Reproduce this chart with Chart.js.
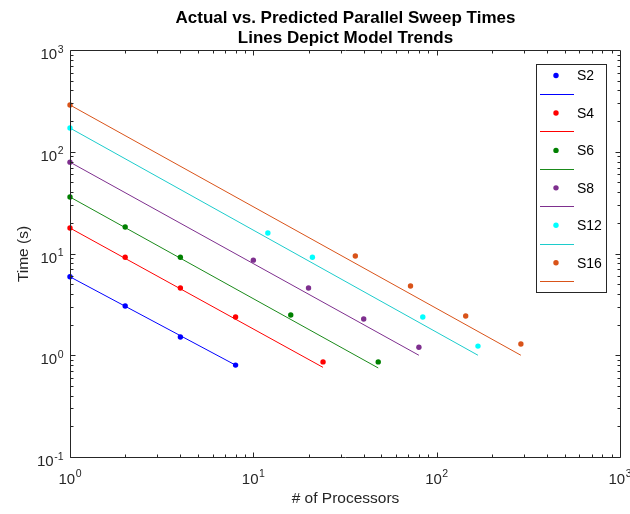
<!DOCTYPE html>
<html>
<head>
<meta charset="utf-8">
<script src="https://cdn.jsdelivr.net/npm/chart.js@4"></script>
<style>
  body { margin: 0; background: #fff; }
  canvas { display: block; }
</style>
</head>
<body>
<canvas id="sweepChart" width="630" height="514"></canvas>
<script>
// --- data ---
const seriesLabels = ["S2", "S4", "S6", "S8", "S12", "S16"];

const procsS2 = [1, 2, 4, 8];
const timeS2 = [5.9, 3.05, 1.51, 0.8];
const procsS4 = [1, 2, 4, 8, 24];
const timeS4 = [17.8, 9.2, 4.58, 2.38, 0.86];
const procsS6 = [1, 2, 4, 16, 48];
const timeS6 = [35.9, 18.2, 9.2, 2.49, 0.86];
const procsS8 = [1, 10, 20, 40, 80];
const timeS8 = [79, 8.6, 4.58, 2.27, 1.2];
const procsS12 = [1, 12, 21, 84, 168];
const timeS12 = [171, 15.9, 9.2, 2.38, 1.23];
const procsS16 = [1, 36, 72, 144, 288];
const timeS16 = [288, 9.44, 4.8, 2.43, 1.29];

// model trend lines (start / end)
const modelProcs = [[1, 8], [1, 24], [1, 48], [1, 80], [1, 168], [1, 288]];
const modelTimes = [[5.9, 0.8], [17.8, 0.76], [35.9, 0.75], [79, 1.0], [171, 1.0], [288, 1.0]];

const xTickValues = [1, 10, 100, 1000];
const xTickExps = ["0", "1", "2", "3"];
const yTickValues = [0.1, 1, 10, 100, 1000];
const yTickExps = ["-1", "0", "1", "2", "3"];

const titleLines = ["Actual vs. Predicted Parallel Sweep Times", "Lines Depict Model Trends"];
const xTitle = "# of Processors";
const yTitle = "Time (s)";

// --- styles ---
const pointColors = ["#0000ff", "#ff0000", "#008000", "#7e2f8e", "#00ffff", "#d95319"];
const lineColors = ["#0000ff", "#ff0000", "#1a8a1a", "#7e2f8e", "#1ccccc", "#d95319"];
const axisColor = "#262626";
const FONT = "'Liberation Sans', Arial, sans-serif";

const procs = [procsS2, procsS4, procsS6, procsS8, procsS12, procsS16];
const times = [timeS2, timeS4, timeS6, timeS8, timeS12, timeS16];

function toPoints(xs, ys) {
  return xs.map((x, i) => ({ x: x, y: ys[i] }));
}

const datasets = [];
seriesLabels.forEach((label, i) => {
  datasets.push({
    label: label,
    data: toPoints(procs[i], times[i]),
    showLine: false,
    pointRadius: 2.7,
    pointBackgroundColor: pointColors[i],
    pointBorderColor: pointColors[i],
    pointBorderWidth: 0,
    clip: false,
  });
  datasets.push({
    label: "",
    data: toPoints(modelProcs[i], modelTimes[i]),
    showLine: true,
    borderColor: lineColors[i],
    borderWidth: 1,
    pointRadius: 0,
    clip: false,
  });
});

function drawPow(ctx, x, y, exp, align) {
  // "10" with raised exponent; align: "right" or "center"
  ctx.font = "15px " + FONT;
  const baseW = ctx.measureText("10").width;
  ctx.font = "10.5px " + FONT;
  const expW = ctx.measureText(exp).width;
  const total = baseW + expW + 0.5;
  const left = align === "right" ? x - total : x - total / 2;
  ctx.textAlign = "left";
  ctx.textBaseline = "alphabetic";
  ctx.font = "15px " + FONT;
  ctx.fillText("10", left, y);
  ctx.font = "10.5px " + FONT;
  ctx.fillText(exp, left + baseW + 0.5, y - 6.5);
}

const matlabAxes = {
  id: "matlabAxes",
  afterDraw(chart) {
    const ctx = chart.ctx;
    const area = chart.chartArea;
    const xs = chart.scales.x;
    const ys = chart.scales.y;
    const L = Math.round(area.left) + 0.5;
    const R = Math.round(area.right) + 0.5;
    const T = Math.round(area.top) + 0.5;
    const B = Math.round(area.bottom) + 0.5;

    ctx.save();
    ctx.strokeStyle = axisColor;
    ctx.lineWidth = 1;
    ctx.beginPath();
    ctx.rect(L, T, R - L, B - T);
    ctx.stroke();

    // ticks, major + minor, on all four sides, pointing inward
    ctx.beginPath();
    for (let k = 0; k < 3; k++) {
      for (let m = 1; m <= 9; m++) {
        const v = m * Math.pow(10, k);
        const len = m === 1 ? 5 : 3;
        const px = Math.round(xs.getPixelForValue(v)) + 0.5;
        ctx.moveTo(px, B); ctx.lineTo(px, B - len);
        ctx.moveTo(px, T); ctx.lineTo(px, T + len);
      }
    }
    for (let k = -1; k < 3; k++) {
      for (let m = 1; m <= 9; m++) {
        const v = m * Math.pow(10, k);
        const len = m === 1 ? 5 : 3;
        const py = Math.round(ys.getPixelForValue(v)) + 0.5;
        ctx.moveTo(L, py); ctx.lineTo(L + len, py);
        ctx.moveTo(R, py); ctx.lineTo(R - len, py);
      }
    }
    ctx.stroke();

    // tick labels
    ctx.fillStyle = axisColor;
    xTickValues.forEach((v, i) => {
      drawPow(ctx, xs.getPixelForValue(v), B + 26, xTickExps[i], "center");
    });
    yTickValues.forEach((v, i) => {
      drawPow(ctx, L - 7, ys.getPixelForValue(v) + 9, yTickExps[i], "right");
    });

    // axis titles
    ctx.font = "15.5px " + FONT;
    ctx.textAlign = "center";
    ctx.textBaseline = "alphabetic";
    ctx.fillText(xTitle, (L + R) / 2, 503);
    ctx.save();
    ctx.translate(28, (T + B) / 2);
    ctx.rotate(-Math.PI / 2);
    ctx.fillText(yTitle, 0, 0);
    ctx.restore();

    // two-line title
    ctx.fillStyle = "#000";
    ctx.font = "bold 17px " + FONT;
    ctx.fillText(titleLines[0], (L + R) / 2, 23);
    ctx.fillText(titleLines[1], (L + R) / 2, 43);

    // legend box
    const lx = 536.5, ly = 64.5, lw = 70, lh = 228;
    ctx.fillStyle = "#fff";
    ctx.fillRect(lx, ly, lw, lh);
    ctx.strokeStyle = axisColor;
    ctx.strokeRect(lx, ly, lw, lh);
    ctx.font = "14px " + FONT;
    ctx.textAlign = "left";
    ctx.textBaseline = "middle";
    seriesLabels.forEach((label, i) => {
      const cy = 75.5 + i * 37.45;
      ctx.fillStyle = pointColors[i];
      ctx.beginPath();
      ctx.arc(556, cy, 2.7, 0, Math.PI * 2);
      ctx.fill();
      ctx.fillStyle = "#000";
      ctx.fillText(label, 577, cy + 1);
      ctx.strokeStyle = lineColors[i];
      ctx.beginPath();
      const ly2 = Math.round(cy + 18.5) + 0.5;
      ctx.moveTo(540, ly2);
      ctx.lineTo(574, ly2);
      ctx.stroke();
    });
    ctx.restore();
  },
};

const sweepChart = new Chart(document.getElementById("sweepChart"), {
  type: "scatter",
  data: { datasets },
  options: {
    responsive: false,
    animation: false,
    layout: { padding: { left: 70, top: 50, right: 10, bottom: 57 } },
    plugins: {
      legend: { display: false },
      tooltip: { enabled: false },
      title: { display: false },
    },
    scales: {
      x: { type: "logarithmic", min: 1, max: 1000, display: false },
      y: { type: "logarithmic", min: 0.1, max: 1000, display: false },
    },
  },
  plugins: [matlabAxes],
});
</script>
</body>
</html>
